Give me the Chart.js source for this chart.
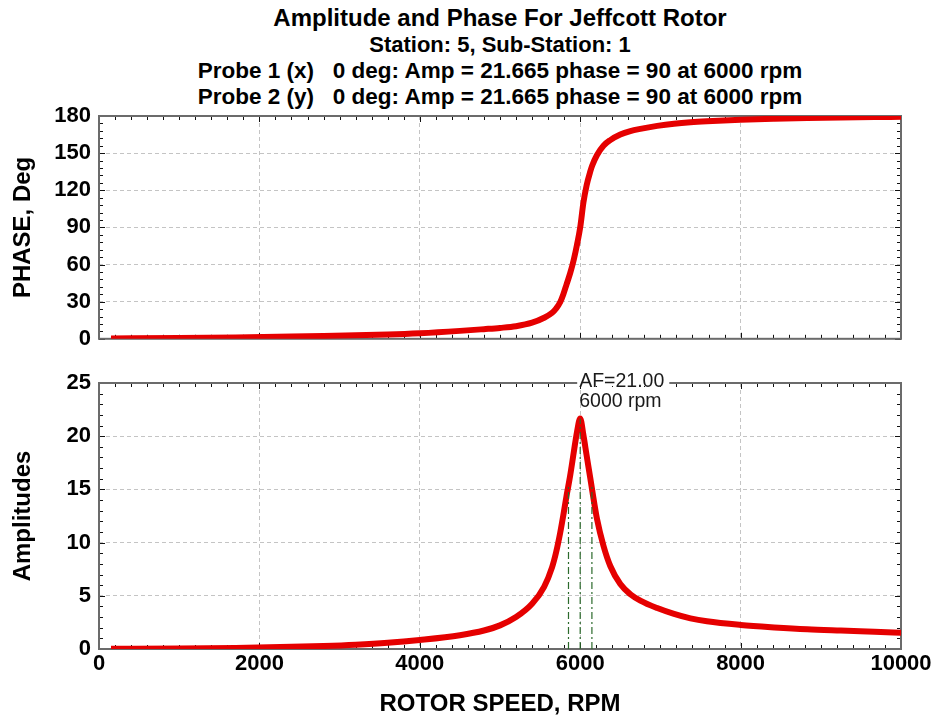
<!DOCTYPE html>
<html>
<head>
<meta charset="utf-8">
<title>Amplitude and Phase For Jeffcott Rotor</title>
<script src="https://cdn.jsdelivr.net/npm/chart.js@4"></script>
<style>
  html, body { margin: 0; padding: 0; background: #fff; }
  #wrap { position: relative; width: 935px; height: 719px; overflow: hidden;
          font-family: "Liberation Sans", Arial, sans-serif; }
  .t { position: absolute; left: 0; width: 1000px; text-align: center; font-weight: bold;
       color: #000; white-space: pre; }
  canvas { position: absolute; left: 0; }
</style>
</head>
<body>
<div id="wrap">
  <div class="t" style="top:4px;font-size:24px;line-height:28px">Amplitude and Phase For Jeffcott Rotor</div>
  <div class="t" style="top:32px;font-size:22px;line-height:26px">Station: 5, Sub-Station: 1</div>
  <div class="t" style="top:58px;font-size:22.5px;line-height:26px">Probe 1 (x)   0 deg: Amp = 21.665 phase = 90 at 6000 rpm</div>
  <div class="t" style="top:84px;font-size:22.5px;line-height:26px">Probe 2 (y)   0 deg: Amp = 21.665 phase = 90 at 6000 rpm</div>
  <canvas id="phaseChart" width="935" height="360" style="top:0"></canvas>
  <canvas id="ampChart" width="935" height="359" style="top:360px"></canvas>
</div>
<script>
// Rotor speed sweep (rpm) and the response measured at each speed
const rotorSpeedRpm = [150, 1000, 1700, 2400, 2800, 3200, 3600, 4000, 4500, 4800,
  5000, 5200, 5400, 5550, 5650, 5700, 5750, 5790, 5830, 5875, 5920, 5960,
  6000, 6040, 6080, 6125, 6150, 6210, 6290, 6375, 6500, 6625,
  6750, 6960, 7170, 7375, 7580, 8000, 8420, 8830, 9250, 9670, 10000];

const phaseDeg = [0.3, 0.6, 1.1, 1.8, 2.3, 2.9, 3.5, 4.5, 6.4, 7.8,
  8.8, 10.2, 13, 17, 21, 24.5, 29.5, 36, 44, 53, 64, 76,
  90, 110, 124, 135, 140, 148.5, 156, 160.5, 165, 167.8,
  169.6, 172, 173.8, 175, 175.8, 177, 177.8, 178.4, 178.8, 179.1, 179.3];

const amplitude = [0.02, 0.05, 0.1, 0.2, 0.28, 0.4, 0.58, 0.85, 1.3, 1.74,
  2.22, 3.0, 4.25, 5.85, 7.7, 9.1, 10.9, 12.6, 14.4, 16.3, 18.5, 20.4,
  21.665, 20.1, 18.2, 16.1, 14.9, 12.2, 9.7, 7.8, 6.1, 5.15,
  4.55, 3.85, 3.3, 2.88, 2.6, 2.26, 2.03, 1.85, 1.73, 1.62, 1.53];

// Critical speed and half-power band markers
const markerSpeedRpm = [5854, 6000, 6146];
const markerAmplitude = [15.3, 21.665, 15.3];
const peakSpeedRpm = 6000;
const amplificationLabel = 'AF=21.00';
const peakSpeedLabel = '6000 rpm';

// Axis ticks
const speedTicks = [0, 2000, 4000, 6000, 8000, 10000];
const phaseTicks = [0, 30, 60, 90, 120, 150, 180];
const ampTicks = [0, 5, 10, 15, 20, 25];

const FONT = '"Liberation Sans", Arial, sans-serif';
Chart.defaults.font.family = FONT;
Chart.defaults.color = '#000';

const RED = '#e50000';
const GRID = '#c4c4c4';
const FRAME = '#6b6b6b';

// Boxed frame with short inward tick marks on all four sides
const framePlugin = {
  id: 'frame',
  beforeDatasetsDraw(chart, args, opts) {
    const { ctx, chartArea: a, scales: { x, y } } = chart;
    const near = (v, step) => Math.abs(v / step - Math.round(v / step)) < 1e-6;
    ctx.save();
    ctx.strokeStyle = '#111';
    ctx.lineWidth = 1;
    ctx.beginPath();
    for (let v = x.min; v <= x.max + 1e-6; v += opts.xMinor) {
      const px = Math.round(x.getPixelForValue(v)) + 0.5;
      const len = near(v, opts.xMajor) ? 6 : 4;
      ctx.moveTo(px, a.bottom); ctx.lineTo(px, a.bottom - len);
      ctx.moveTo(px, a.top); ctx.lineTo(px, a.top + len);
    }
    for (let v = y.min; v <= y.max + 1e-6; v += opts.yMinor) {
      const py = Math.round(y.getPixelForValue(v)) + 0.5;
      const len = near(v, opts.yMajor) ? 6 : 4;
      ctx.moveTo(a.left, py); ctx.lineTo(a.left + len, py);
      ctx.moveTo(a.right, py); ctx.lineTo(a.right - len, py);
    }
    ctx.stroke();
    ctx.strokeStyle = FRAME;
    ctx.lineWidth = 2;
    ctx.strokeRect(a.left, a.top, a.right - a.left, a.bottom - a.top);
    ctx.restore();
  }
};

// Peak annotation written across the top border of the amplitude plot
const peakLabelPlugin = {
  id: 'peakLabel',
  afterDatasetsDraw(chart) {
    const { ctx, chartArea: a, scales: { x } } = chart;
    const px = x.getPixelForValue(peakSpeedRpm);
    ctx.save();
    ctx.font = '19.5px ' + FONT;
    const w = ctx.measureText(amplificationLabel).width;
    ctx.fillStyle = '#fff';
    ctx.fillRect(px - 3, a.top - 3, w + 7, 6);
    ctx.fillStyle = '#1a1a1a';
    ctx.textAlign = 'left';
    ctx.textBaseline = 'middle';
    ctx.fillText(amplificationLabel, px - 1, a.top - 1);
    ctx.fillText(peakSpeedLabel, px - 1, a.top + 19);
    ctx.restore();
  }
};

const tickFont = { size: 22, weight: 'bold', family: FONT };
const titleFont = { size: 24, weight: 'bold', family: FONT };

function setTicks(list) {
  return s => { s.ticks = list.map(v => ({ value: v })); };
}

function xAxis(showLabels) {
  return {
    type: 'linear', min: 0, max: 10000,
    afterBuildTicks: setTicks(speedTicks),
    afterFit: s => { s.height = showLabels ? 70 : 0; },
    ticks: { display: showLabels, font: tickFont, padding: 2, autoSkip: false, maxRotation: 0,
             callback: v => String(v) },
    grid: { color: GRID, lineWidth: 1, drawTicks: false },
    border: { display: false, dash: [4, 3] },
    title: showLabels
      ? { display: true, text: 'ROTOR SPEED, RPM', font: titleFont, padding: { top: 0, bottom: 0 } }
      : { display: false }
  };
}

function yAxis(min, max, ticks, title) {
  return {
    type: 'linear', min, max,
    afterBuildTicks: setTicks(ticks),
    afterFit: s => { s.width = 99; },
    ticks: { font: tickFont, padding: 8, callback: v => String(v) },
    grid: { color: GRID, lineWidth: 1, drawTicks: false },
    border: { display: false, dash: [4, 3] },
    title: { display: true, text: title, font: titleFont, padding: { top: 9, bottom: 0 } }
  };
}

function curve(values) {
  return {
    data: rotorSpeedRpm.map((s, i) => ({ x: s, y: values[i] })),
    borderColor: RED,
    backgroundColor: RED,
    borderWidth: 6,
    pointRadius: 0,
    cubicInterpolationMode: 'monotone',
    borderJoinStyle: 'round',
    order: 1
  };
}

const common = {
  responsive: false,
  devicePixelRatio: 1,
  animation: false,
  events: [],
  plugins: { legend: { display: false }, tooltip: { enabled: false } }
};

new Chart(document.getElementById('phaseChart'), {
  type: 'line',
  data: { datasets: [curve(phaseDeg)] },
  options: {
    ...common,
    layout: { padding: { top: 116, right: 34, bottom: 16, left: 0 } },
    scales: { x: xAxis(false), y: yAxis(0, 180, phaseTicks, 'PHASE, Deg') },
    plugins: { ...common.plugins, frame: { xMinor: 200, xMajor: 2000, yMinor: 6, yMajor: 30 } }
  },
  plugins: [framePlugin]
});

const markerSets = markerSpeedRpm.map((s, i) => ({
  data: [{ x: s, y: 0 }, { x: s, y: markerAmplitude[i] }],
  borderColor: '#2c6a2c',
  borderWidth: 1.2,
  borderDash: [7, 3, 2, 3],
  pointRadius: 0,
  order: 0
}));

new Chart(document.getElementById('ampChart'), {
  type: 'line',
  data: { datasets: [...markerSets, curve(amplitude)] },
  options: {
    ...common,
    layout: { padding: { top: 23, right: 34, bottom: 0, left: 0 } },
    scales: { x: xAxis(true), y: yAxis(0, 25, ampTicks, 'Amplitudes') },
    plugins: { ...common.plugins, frame: { xMinor: 200, xMajor: 2000, yMinor: 1, yMajor: 5 } }
  },
  plugins: [framePlugin, peakLabelPlugin]
});
</script>
</body>
</html>
